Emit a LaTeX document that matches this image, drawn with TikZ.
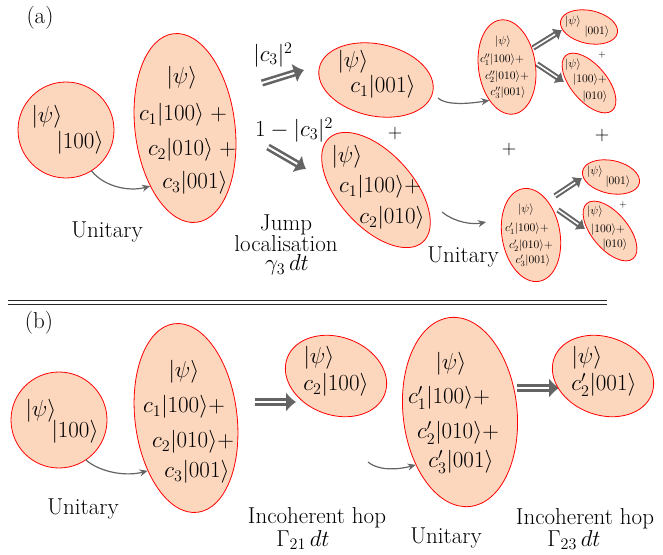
\RequirePackage{fix-cm}
\documentclass[tikz,border=0pt]{standalone}
\usetikzlibrary{shapes.geometric,arrows.meta}
\definecolor{peach}{RGB}{252,215,190}
\definecolor{agray}{RGB}{100,100,100}
\definecolor{sepgray}{RGB}{40,40,40}
\newcommand{\bigf}{\fontsize{23}{27}\selectfont}
\newcommand{\plusf}{\fontsize{20}{24}\selectfont}
\newcommand{\smf}{\fontsize{11.5}{13}\selectfont}
\newcommand{\tinyplus}{\fontsize{10}{12}\selectfont}
\newcommand{\kt}[1]{|#1\rangle}
\begin{document}
\begin{tikzpicture}[x=1pt,y=-1pt,
  blob/.style={ellipse, draw=red, fill=peach, line width=0.8pt, inner sep=0pt},
  ball/.style={circle, draw=red, fill=peach, line width=0.8pt, inner sep=0pt, minimum size=96pt},
  big/.style={font=\bigf, inner sep=0pt},
  plus/.style={font=\plusf, inner sep=0pt},
  small/.style={font=\smf, inner sep=0pt},
  tplus/.style={font=\tinyplus, inner sep=0pt},
  curv/.style={agray, line width=1.2pt, -{Stealth[length=8pt,width=7pt]}},
  dblarrow/.style={agray, line width=2.6pt, double=white, double distance=2pt, -{Latex[length=10pt,width=20pt]}},
  dblsmall/.style={agray, line width=2pt, double=white, double distance=1.6pt, -{Latex[length=8pt,width=14pt]}}
]
\useasboundingbox (0,0) rectangle (663,554);

% ---------------- panel (a) ----------------
\node[big] (la) at (40,18) {(a)};
\node[ball] (C1) at (66,130) {};
\node[big] (c1a) at (47,117) {$\kt{\psi}$};
\node[big] (c1b) at (80,143) {$\kt{100}$};

\node[blob, minimum width=100pt, minimum height=190pt, rotate=7] (E1) at (185,128) {};
\node[big] (e1a) at (182,78) {$\kt{\psi}$};
\node[big] (e1b) at (183,115) {$c_1\kt{100}\;+$};
\node[big] (e1c) at (192,150) {$c_2\kt{010}\;+$};
\node[big] (e1d) at (195,183) {$c_3\kt{001}$};
\node[big] (u1) at (107,232) {Unitary};
\draw[curv] (C1.-58) .. controls +(12,15) and +(-22,6) .. (E1.232);

\node[big] (p3a) at (273,55) {$|c_3|^2$};
\node[big] (p3b) at (294,130) {$1-|c_3|^2$};
\coordinate (d1s) at (262,83);
\coordinate (d1e) at (304,70);
\coordinate (d2s) at (268,147);
\coordinate (d2e) at (306,169);
\draw[dblarrow] (d1s) -- (d1e);
\draw[dblarrow] (d2s) -- (d2e);

\node[blob, minimum width=116pt, minimum height=72pt, rotate=-12] (E2) at (376,80) {};
\node[big] (e2a) at (353,62) {$\kt{\psi}$};
\node[big] (e2b) at (383,87) {$c_1\kt{001}$};
\node[plus] (pl1) at (395,133) {$+$};

\node[blob, minimum width=140pt, minimum height=74pt, rotate=-48] (E3) at (376,190) {};
\node[big] (e3a) at (347,157) {$\kt{\psi}$};
\node[big] (e3b) at (380,187) {$c_1\kt{100}{+}$};
\node[big] (e3c) at (392,218) {$c_2\kt{010}$};

\node[big] (j1) at (286,225) {Jump};
\node[big] (j2) at (286,244) {localisation};
\node[big] (j3) at (287,265) {$\gamma_3\,dt$};

% upper-right group
\node[blob, minimum width=57pt, minimum height=95pt, rotate=8] (S1) at (507,67) {};
\node[small] (s1a) at (503,42) {$\kt{\psi}$};
\node[small] (s1b) at (502,60) {$c_1''\kt{100}+$};
\node[small] (s1c) at (507,77) {$c_2''\kt{010}+$};
\node[small] (s1d) at (508,93) {$c_3''\kt{001}$};
\coordinate (a2s) at (438,98);
\draw[curv] (a2s) .. controls +(10,9) and +(-12,2) .. (S1.234);

\coordinate (d3s) at (533,48);
\coordinate (d3e) at (562,30);
\coordinate (d4s) at (537,64);
\coordinate (d4e) at (564,82);
\draw[dblsmall] (d3s) -- (d3e);
\draw[dblsmall] (d4s) -- (d4e);

\node[blob, minimum width=58pt, minimum height=33pt, rotate=-12] (T1) at (589,27) {};
\node[small] (t1a) at (573,22) {$\kt{\psi}$};
\node[small] (t1b) at (597,32) {$\kt{001}$};
\node[tplus] (pl2) at (602,55) {$+$};
\node[blob, minimum width=72pt, minimum height=36pt, rotate=-50] (T2) at (589,83) {};
\node[small] (t2a) at (573,65) {$\kt{\psi}$};
\node[small] (t2b) at (590,80) {$\kt{100}+$};
\node[small] (t2c) at (595,97) {$\kt{010}$};
\node[plus] (pl3) at (602,135) {$+$};
\node[plus] (pl4) at (509,149) {$+$};

% lower-right group
\node[blob, minimum width=58pt, minimum height=94pt, rotate=10] (S2) at (531,235) {};
\node[small] (s2a) at (526,210) {$\kt{\psi}$};
\node[small] (s2b) at (527,229) {$c_1'\kt{100}+$};
\node[small] (s2c) at (531,246) {$c_2'\kt{010}+$};
\node[small] (s2d) at (533,261) {$c_3'\kt{001}$};
\coordinate (a3s) at (442,212);
\coordinate (a3e) at (486,222);
\draw[curv] (a3s) .. controls +(12,10) and +(-14,3) .. (a3e);
\node[big] (u2) at (463,257) {Unitary};

\coordinate (d5s) at (555,196);
\coordinate (d5e) at (582,178);
\coordinate (d6s) at (558,210);
\coordinate (d6e) at (585,229);
\draw[dblsmall] (d5s) -- (d5e);
\draw[dblsmall] (d6s) -- (d6e);

\node[blob, minimum width=58pt, minimum height=33pt, rotate=-12] (T3) at (611,177) {};
\node[small] (t3a) at (595,172) {$\kt{\psi}$};
\node[small] (t3b) at (618,182) {$\kt{001}$};
\node[tplus] (pl5) at (623,205) {$+$};
\node[blob, minimum width=72pt, minimum height=36pt, rotate=-50] (T4) at (610,231) {};
\node[small] (t4a) at (595,212) {$\kt{\psi}$};
\node[small] (t4b) at (608,230) {$\kt{100}+$};
\node[small] (t4c) at (615,245) {$\kt{010}$};

% separator
\coordinate (sl1) at (8,300);
\coordinate (sr1) at (607,300);
\coordinate (sl2) at (8,304);
\coordinate (sr2) at (607,304);
\draw[sepgray, line width=0.9pt] (sl1) -- (sr1);
\draw[sepgray, line width=0.9pt] (sl2) -- (sr2);

% ---------------- panel (b) ----------------
\node[big] (lb) at (39,323) {(b)};
\node[ball] (C2) at (59,420) {};
\node[big] (c2a) at (41,411) {$\kt{\psi}$};
\node[big] (c2b) at (75,432) {$\kt{100}$};

\node[blob, minimum width=102pt, minimum height=190pt, rotate=7] (E4) at (186,418) {};
\node[big] (e4a) at (184,372) {$\kt{\psi}$};
\node[big] (e4b) at (184,407) {$c_1\kt{100}{+}$};
\node[big] (e4c) at (193,442) {$c_2\kt{010}{+}$};
\node[big] (e4d) at (197,472) {$c_3\kt{001}$};
\node[big] (u3) at (83,509) {Unitary};
\draw[curv] (C2.-56) .. controls +(14,12) and +(-22,6) .. (E4.227);

\coordinate (d7s) at (255,402);
\coordinate (d7e) at (296,402);
\draw[dblarrow] (d7s) -- (d7e);
\node[blob, minimum width=104pt, minimum height=78pt, rotate=-20] (E5) at (336,376) {};
\node[big] (e5a) at (319,358) {$\kt{\psi}$};
\node[big] (e5b) at (336,385) {$c_2\kt{100}$};
\node[big] (h1) at (317,518) {Incoherent hop};
\node[big] (g1) at (303,540) {$\Gamma_{21}\,dt$};

\node[blob, minimum width=114pt, minimum height=190pt, rotate=6] (E6) at (460,412) {};
\coordinate (a5s) at (368,462);
\draw[curv] (a5s) .. controls +(12,10) and +(-14,4) .. (E6.224);
\node[big] (e6a) at (451,364) {$\kt{\psi}$};
\node[big] (e6b) at (449,398) {$c_1'\kt{100}{+}$};
\node[big] (e6c) at (458,433) {$c_2'\kt{010}{+}$};
\node[big] (e6d) at (461,462) {$c_3'\kt{001}$};
\node[big] (u4) at (446,538) {Unitary};

\coordinate (d8s) at (517,388);
\coordinate (d8e) at (559,388);
\draw[dblarrow] (d8s) -- (d8e);
\node[blob, minimum width=104pt, minimum height=78pt, rotate=-20] (E7) at (603,376) {};
\node[big] (e7a) at (587,358) {$\kt{\psi}$};
\node[big] (e7b) at (604,385) {$c_2'\kt{001}$};
\node[big] (h2) at (585,519) {Incoherent hop};
\node[big] (g2) at (574,540) {$\Gamma_{23}\,dt$};
\end{tikzpicture}
\end{document}
